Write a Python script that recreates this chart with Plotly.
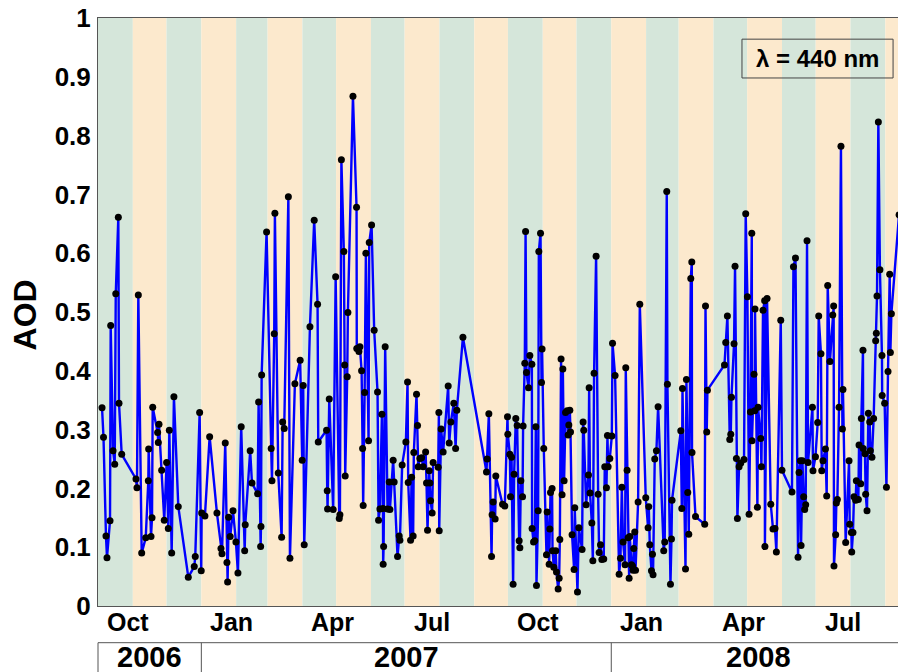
import plotly.graph_objects as go
import pandas as pd

# ---------------- data ----------------
start_date = "2006-10-01"
end_date = "2008-09-19 10:00"

# observation times, in days since start_date
days_since_start = [
    3.6, 4.9, 7.1, 8.0, 10.7, 11.3, 13.4, 14.9, 15.8, 18.1, 18.7, 21.1,
    33.8, 34.7, 35.9, 38.9, 42.5, 44.8, 45.1, 47.2, 48.1, 48.7, 53.1, 53.7, 54.3,
    56.7, 59.0, 61.1, 62.6, 63.5, 65.6, 67.6, 71.5,
    80.4, 85.7, 86.6, 90.5, 91.9, 92.3, 95.2, 99.4, 105.9, 109.5, 110.4, 113.3,
    114.8, 115.4, 116.3, 117.7, 120.2, 122.8, 124.6, 127.5, 130.6, 131.1, 135.5, 137.1,
    142.1, 143.0, 144.8, 145.1, 145.7, 150.1, 154.2, 154.9, 156.9, 157.5, 160.5,
    163.5, 164.4, 165.8, 169.5, 170.9, 175.3, 180.0, 181.8, 182.7, 183.6, 188.7,
    192.5, 195.5, 196.1,
    203.5, 204.1, 204.4, 205.9, 209.4, 211.6, 214.8, 215.4, 216.7, 218.9, 219.6,
    220.1, 221.9, 222.5, 227.0, 230.2, 230.4, 232.3, 233.2, 234.7, 235.6, 236.1,
    237.4, 238.5, 240.9, 241.5, 243.6, 245.9, 248.9, 249.8, 251.0, 252.8, 253.7,
    253.9, 254.3, 255.7, 257.8, 259.3,
    259.9, 262.8, 263.7, 266.7, 268.2, 268.8, 270.8, 274.1, 275.6, 276.2, 278.3,
    279.2, 280.6, 281.2, 283.6, 284.5, 285.1, 286.6, 288.1, 289.5, 291.7, 292.5,
    293.4, 294.9, 295.5, 296.1, 297.5, 298.4, 302.9, 303.5, 303.8, 305.5, 307.3,
    311.8, 312.7, 314.2, 316.8, 318.4, 319.5, 324.9,
    345.9, 346.5, 348.0, 350.4, 350.9, 351.8, 353.6, 354.2, 360.2, 362.2, 364.6,
    364.9, 366.7, 367.3, 368.2, 369.6, 370.5, 372.0, 373.2, 375.0, 375.6, 376.5,
    378.0, 378.5, 380.0, 380.7, 381.5, 383.3, 384.5, 386.3, 386.5, 387.8, 388.9,
    389.8, 390.4, 391.9, 392.5, 394.0, 394.9, 395.4, 396.9,
    399.3, 399.9, 401.7, 402.3, 402.9, 404.3, 404.7, 405.8, 407.6, 408.2, 409.7,
    410.6, 411.2, 412.3, 413.2, 413.9, 415.0, 416.3, 417.7, 418.6, 419.2, 420.1,
    420.7, 422.1, 423.9, 424.5, 426.9, 428.1, 431.0, 431.9, 432.5, 434.6, 436.7,
    437.3, 438.1, 439.7, 440.6, 441.7, 443.5, 445.3, 446.2, 447.4, 448.6, 450.3,
    451.2, 452.7, 453.6, 454.2, 455.7, 457.5, 458.1, 460.4,
    464.0, 465.2, 466.4, 467.5, 469.3, 469.9, 471.1, 472.0, 472.9, 473.5, 475.0,
    475.9, 476.4, 477.0, 477.9, 478.6, 480.9, 482.4, 487.7, 489.8, 490.4, 491.3,
    492.8, 493.7, 494.2, 495.7, 497.2, 498.7, 503.7, 504.6, 506.4, 507.0, 509.7,
    510.6, 511.1, 518.9, 519.8, 520.4, 523.1, 523.9, 525.1, 526.0, 527.8, 528.7,
    528.9, 532.0, 540.2, 540.9, 542.0, 542.6, 557.8, 558.9, 560.4, 562.5, 563.4,
    564.0, 566.3, 567.2, 568.4, 569.3, 570.8, 572.3, 575.2, 576.7, 578.2, 579.7,
    580.9, 582.1, 582.3, 584.1, 584.7, 585.0, 587.1, 587.7, 590.1, 590.7, 592.1,
    593.6, 593.8, 595.7, 599.0, 601.0, 602.8, 604.0, 607.9, 609.0, 617.9, 619.2,
    621.0, 623.3, 624.2, 625.4, 626.0, 627.2, 628.3, 629.2, 630.1, 631.3, 632.2,
    636.1, 636.6, 638.8, 640.8, 641.7, 643.7, 644.4, 645.5, 647.7, 648.8, 649.7,
    651.7, 654.2, 655.0, 655.3, 656.8, 657.4, 658.3, 659.8, 661.5, 662.8, 663.3,
    665.7, 668.7, 669.3, 670.8, 671.1, 672.2, 673.1, 674.6, 675.2, 677.0, 677.6,
    679.1, 679.7, 681.1, 681.3, 682.9, 683.5, 684.7, 685.9, 687.1, 687.7, 689.1,
    690.6, 692.4, 693.0, 693.6, 694.8, 696.2, 698.0, 698.2, 700.4, 702.0, 703.4,
    704.9, 705.5, 706.4, 713.2, 719.2, 720.3,
]

aod_440 = [
    0.337, 0.287, 0.119, 0.082, 0.145, 0.477, 0.264, 0.241, 0.531, 0.661, 0.345, 0.258,
    0.216, 0.201, 0.529, 0.090, 0.116, 0.213, 0.267, 0.118, 0.150, 0.338, 0.295, 0.278, 0.309,
    0.231, 0.146, 0.244, 0.132, 0.299, 0.090, 0.356, 0.169,
    0.049, 0.067, 0.084, 0.329, 0.060, 0.158, 0.153, 0.288, 0.158, 0.098, 0.089, 0.277,
    0.074, 0.041, 0.151, 0.118, 0.162, 0.109, 0.056, 0.305, 0.094, 0.138, 0.264, 0.209,
    0.191, 0.347, 0.101, 0.135, 0.393, 0.636, 0.268, 0.213, 0.463, 0.668, 0.226,
    0.117, 0.313, 0.302, 0.696, 0.081, 0.378, 0.418, 0.248, 0.375, 0.104, 0.475,
    0.656, 0.513, 0.279,
    0.299, 0.196, 0.165, 0.352, 0.164, 0.560, 0.149, 0.155, 0.759, 0.603, 0.410,
    0.221, 0.390, 0.499, 0.867, 0.678, 0.438, 0.433, 0.441, 0.400, 0.268, 0.171,
    0.363, 0.600, 0.281, 0.618, 0.648, 0.469, 0.364, 0.146, 0.165, 0.326, 0.166,
    0.071, 0.101, 0.441, 0.165, 0.211,
    0.164, 0.248, 0.211, 0.084, 0.119, 0.112, 0.240, 0.279, 0.381, 0.210, 0.112,
    0.219, 0.119, 0.261, 0.360, 0.307, 0.237, 0.251, 0.252, 0.237, 0.262, 0.209,
    0.129, 0.230, 0.209, 0.179, 0.158, 0.244, 0.236, 0.329, 0.128, 0.301, 0.262,
    0.374, 0.277, 0.313, 0.345, 0.268, 0.333, 0.457,
    0.228, 0.250, 0.327, 0.084, 0.155, 0.177, 0.148, 0.221, 0.173, 0.170, 0.322,
    0.292, 0.258, 0.186, 0.253, 0.037, 0.224, 0.319, 0.307, 0.111, 0.099, 0.213,
    0.186, 0.306, 0.413, 0.637, 0.397, 0.371, 0.426, 0.411, 0.132, 0.109, 0.111,
    0.305, 0.035, 0.162, 0.603, 0.634, 0.380, 0.437, 0.268,
    0.087, 0.160, 0.071, 0.131, 0.193, 0.200, 0.094, 0.066, 0.094, 0.058, 0.029,
    0.047, 0.113, 0.420, 0.189, 0.403, 0.213, 0.329, 0.332, 0.291, 0.308, 0.333,
    0.296, 0.121, 0.062, 0.167, 0.024, 0.133, 0.096, 0.313, 0.299, 0.172, 0.223,
    0.371, 0.192, 0.141, 0.077, 0.396, 0.595, 0.190, 0.091, 0.104, 0.079, 0.080,
    0.237, 0.201, 0.290, 0.237, 0.251, 0.289, 0.447, 0.392,
    0.054, 0.081, 0.202, 0.109, 0.070, 0.405, 0.231, 0.116, 0.047, 0.118, 0.070,
    0.068, 0.061, 0.098, 0.126, 0.061, 0.177, 0.513, 0.184, 0.133, 0.169, 0.104,
    0.060, 0.088, 0.053, 0.250, 0.264, 0.339, 0.094, 0.109, 0.705, 0.377, 0.037,
    0.114, 0.180, 0.298, 0.166, 0.370, 0.063, 0.385, 0.193, 0.122, 0.557, 0.585,
    0.261, 0.152, 0.139, 0.510, 0.296, 0.367, 0.410, 0.448, 0.493, 0.283, 0.292,
    0.355, 0.446, 0.578, 0.251, 0.149, 0.237, 0.243, 0.249, 0.667, 0.526, 0.156,
    0.330, 0.634, 0.281, 0.394, 0.332, 0.505, 0.168, 0.338, 0.285, 0.237, 0.503,
    0.519, 0.101, 0.523, 0.173, 0.131, 0.132, 0.092, 0.486, 0.231, 0.194, 0.577,
    0.592, 0.083, 0.227, 0.247, 0.103, 0.247, 0.186, 0.164, 0.172, 0.621, 0.244,
    0.338, 0.230, 0.254, 0.312, 0.493, 0.429, 0.230, 0.247, 0.267, 0.187, 0.545,
    0.416, 0.495, 0.510, 0.068, 0.121, 0.175, 0.181, 0.338, 0.782, 0.301, 0.368,
    0.108, 0.247, 0.139, 0.125, 0.092, 0.125, 0.186, 0.180, 0.213, 0.181, 0.274,
    0.208, 0.319, 0.435, 0.268, 0.259, 0.190, 0.162, 0.328, 0.313, 0.264, 0.253,
    0.319, 0.451, 0.464, 0.527, 0.823, 0.572, 0.426, 0.358, 0.345, 0.202, 0.399,
    0.564, 0.431, 0.497, 0.665, 0.283, 0.155,
]

month_tick_dates = ["2006-10-01", "2007-01-01", "2007-04-01", "2007-07-01",
                    "2007-10-01", "2008-01-01", "2008-04-01", "2008-07-01"]
month_tick_labels = ["Oct", "Jan", "Apr", "Jul", "Oct", "Jan", "Apr", "Jul"]
year_labels = ["2006", "2007", "2008"]
year_starts = ["2006-10-01", "2007-01-01", "2008-01-01"]
y_tick_values = [0, 0.1, 0.2, 0.3, 0.4, 0.5, 0.6, 0.7, 0.8, 0.9, 1]
y_tick_labels = ["0", "0.1", "0.2", "0.3", "0.4", "0.5", "0.6", "0.7", "0.8", "0.9", "1"]
legend_text = "λ = 440 nm"

# ---------------- styling ----------------
FONT = "Liberation Sans, Arial, sans-serif"
GREEN = "#d5e6da"
ORANGE = "#fce9cd"
FRAME = "#555555"

t0 = pd.Timestamp(start_date)
t1 = pd.Timestamp(end_date)
dates = t0 + pd.to_timedelta(days_since_start, unit="D")


def frac(d):
    return (pd.Timestamp(d) - t0) / (t1 - t0)


fig = go.Figure()
fig.add_trace(go.Scatter(
    x=dates, y=aod_440, mode="lines+markers",
    line=dict(color="#0000ff", width=2.4),
    marker=dict(color="black", size=7),
    showlegend=False, hoverinfo="x+y", cliponaxis=True,
))

shapes = []
months = pd.date_range("2006-10-01", "2008-10-01", freq="MS")
for i in range(len(months) - 1):
    shapes.append(dict(type="rect", xref="x", yref="paper",
                       x0=months[i], x1=months[i + 1], y0=0, y1=1,
                       fillcolor=GREEN if i % 2 == 0 else ORANGE,
                       line=dict(width=0), layer="below"))

# year boxes below the axis
box_top = -0.0624
shapes.append(dict(type="line", xref="paper", yref="paper", x0=0, x1=1,
                   y0=box_top, y1=box_top, line=dict(color=FRAME, width=1)))
for ys in year_starts:
    fx = frac(ys)
    shapes.append(dict(type="line", xref="paper", yref="paper", x0=fx, x1=fx,
                       y0=box_top, y1=-0.2, line=dict(color=FRAME, width=1)))

# legend-like box
shapes.append(dict(type="rect", xref="paper", yref="paper",
                   x0=0.797, x1=0.984, y0=0.898, y1=0.964,
                   line=dict(color="#444444", width=1), fillcolor="rgba(0,0,0,0)"))

annotations = []
for d, lab in zip(month_tick_dates, month_tick_labels):
    annotations.append(dict(x=d, y=-0.027, xref="x", yref="paper", text=lab,
                            showarrow=False, xanchor="left", yanchor="middle", xshift=7,
                            font=dict(family=FONT, size=25, color="black", weight="bold")))

bounds = year_starts + [end_date]
for i, lab in enumerate(year_labels):
    a = pd.Timestamp(bounds[i])
    b = pd.Timestamp(bounds[i + 1])
    mid = a + (b - a) / 2
    annotations.append(dict(x=mid, y=-0.0862, xref="x", yref="paper", text=lab,
                            showarrow=False, xanchor="center", yanchor="middle",
                            font=dict(family=FONT, size=29, color="black", weight="bold")))

annotations.append(dict(x=-0.091, y=0.495, xref="paper", yref="paper", text="AOD",
                        textangle=-90, showarrow=False, xanchor="center", yanchor="middle",
                        font=dict(family=FONT, size=32, color="black", weight="bold")))

annotations.append(dict(x=0.8905, y=0.931, xref="paper", yref="paper", text=legend_text,
                        showarrow=False, xanchor="center", yanchor="middle",
                        font=dict(family=FONT, size=24, color="black", weight="bold")))

# the page places the figure 8px in from the top-left corner
fig.update_layout(
    width=898, height=664,
    margin=dict(l=90, r=0, t=10, b=66, autoexpand=False),
    paper_bgcolor="white", plot_bgcolor="white",
    shapes=shapes, annotations=annotations,
    xaxis=dict(type="date", range=[t0, t1], showticklabels=False, showgrid=False,
               zeroline=False, showline=True, linecolor=FRAME, linewidth=1,
               mirror=True, ticks="", automargin=False),
    yaxis=dict(range=[0, 1], tickvals=y_tick_values, ticktext=y_tick_labels,
               tickfont=dict(family=FONT, size=26, color="black", weight="bold"),
               showgrid=False, zeroline=False, showline=True, linecolor=FRAME,
               linewidth=1, mirror=False, ticks="", ticklabelstandoff=1,
               ticklabeloverflow="allow", automargin=False),
)

fig.write_html("out.html", config={"responsive": False})
